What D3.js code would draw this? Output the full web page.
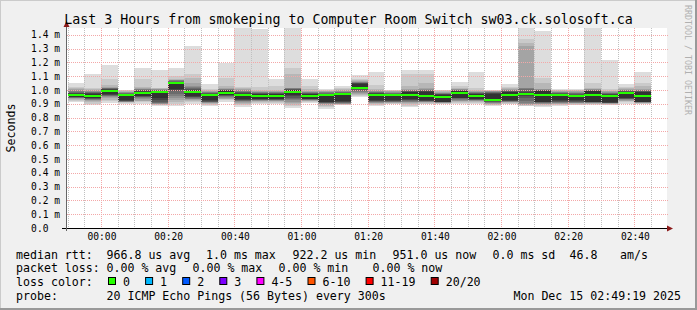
<!DOCTYPE html>
<html>
<head>
<meta charset="utf-8">
<script src="https://cdn.jsdelivr.net/npm/d3@7"></script>
<style>
  body { margin: 0; background: #f0f0f0; }
  text { font-family: "DejaVu Sans Mono", monospace; white-space: pre; fill: #000; }
</style>
</head>
<body>
<svg id="chart" width="697" height="310"></svg>
<script>
// 5 minute steps, start of each step
var stepTimes = ["23:50","23:55","00:00","00:05","00:10","00:15","00:20","00:25","00:30","00:35",
                 "00:40","00:45","00:50","00:55","01:00","01:05","01:10","01:15","01:20","01:25",
                 "01:30","01:35","01:40","01:45","01:50","01:55","02:00","02:05","02:10","02:15",
                 "02:20","02:25","02:30","02:35","02:40"];

// median rtt per step, ms
var medianRtt = [0.964, 0.957, 0.990, 0.966, 0.978, 0.983, 1.048, 0.983, 0.964, 0.978,
                 0.964, 0.957, 0.957, 0.983, 0.957, 0.964, 0.969, 1.014, 0.964, 0.964,
                 0.964, 0.957, 0.949, 0.978, 0.957, 0.928, 0.964, 0.969, 0.964, 0.964,
                 0.957, 0.964, 0.957, 0.981, 0.957];

// 20 sorted pings per step, ms (the smoke)
var pings = [
  [0.912,0.922,0.930,0.936,0.940,0.943,0.945,0.947,0.949,0.950,0.972,0.976,0.980,0.985,0.990,0.998,1.005,1.012,1.024,1.048],
  [0.889,0.900,0.910,0.918,0.925,0.930,0.934,0.937,0.940,0.942,0.972,0.976,0.979,0.983,0.987,0.992,1.000,1.008,1.017,1.113],
  [0.904,0.918,0.930,0.942,0.950,0.955,0.960,0.963,0.966,0.968,1.002,1.006,1.009,1.012,1.015,1.018,1.024,1.040,1.082,1.181],
  [0.896,0.905,0.910,0.913,0.915,0.917,0.918,0.920,0.922,0.930,0.968,0.971,0.974,0.977,0.980,0.984,0.988,0.993,0.998,1.003],
  [0.901,0.912,0.918,0.924,0.932,0.940,0.948,0.952,0.956,0.960,0.988,0.993,0.997,1.001,1.005,1.010,1.016,1.024,1.077,1.157],
  [0.884,0.890,0.894,0.897,0.900,0.903,0.908,0.915,0.925,0.945,0.988,0.992,0.996,1.000,1.003,1.006,1.009,1.013,1.017,1.142],
  [0.884,0.900,0.915,0.930,0.945,0.960,0.975,0.990,1.000,1.010,1.052,1.058,1.062,1.066,1.070,1.073,1.076,1.080,1.100,1.157],
  [0.900,0.910,0.918,0.925,0.932,0.938,0.943,0.947,0.951,0.955,0.995,1.000,1.005,1.012,1.020,1.030,1.050,1.090,1.113,1.316],
  [0.884,0.893,0.900,0.904,0.907,0.910,0.912,0.915,0.918,0.925,0.968,0.972,0.976,0.980,0.984,0.988,0.993,1.000,1.010,1.041],
  [0.916,0.925,0.932,0.938,0.944,0.950,0.955,0.959,0.962,0.965,0.995,0.998,1.001,1.004,1.007,1.010,1.014,1.029,1.089,1.195],
  [0.877,0.890,0.898,0.905,0.912,0.918,0.923,0.927,0.931,0.935,0.975,0.979,0.983,0.988,0.994,1.000,1.006,1.012,1.020,1.460],
  [0.896,0.905,0.912,0.918,0.922,0.925,0.928,0.931,0.933,0.935,0.970,0.973,0.976,0.980,0.984,0.988,0.994,1.000,1.020,1.441],
  [0.900,0.908,0.914,0.919,0.923,0.926,0.929,0.931,0.933,0.935,0.972,0.975,0.978,0.981,0.984,0.988,0.993,1.000,1.030,1.077],
  [0.872,0.885,0.895,0.905,0.915,0.925,0.935,0.945,0.955,0.962,1.000,1.003,1.006,1.009,1.012,1.014,1.017,1.113,1.161,1.460],
  [0.904,0.912,0.918,0.922,0.925,0.928,0.930,0.932,0.934,0.936,0.972,0.975,0.978,0.981,0.984,0.988,0.995,1.005,1.030,1.077],
  [0.865,0.878,0.888,0.895,0.900,0.903,0.905,0.907,0.910,0.915,0.968,0.972,0.975,0.979,0.983,0.987,0.991,0.996,1.003,1.010],
  [0.889,0.893,0.896,0.899,0.902,0.905,0.908,0.912,0.916,0.922,0.972,0.976,0.980,0.984,0.988,0.993,0.998,1.005,1.014,1.027],
  [0.950,0.958,0.965,0.972,0.980,0.988,0.995,1.000,1.005,1.012,1.045,1.048,1.051,1.054,1.058,1.062,1.067,1.072,1.077,1.106],
  [0.884,0.892,0.898,0.903,0.908,0.912,0.916,0.919,0.922,0.925,0.975,0.978,0.981,0.984,0.988,0.994,1.000,1.010,1.040,1.130],
  [0.896,0.902,0.906,0.909,0.911,0.913,0.915,0.918,0.922,0.930,0.966,0.970,0.974,0.978,0.982,0.986,0.990,0.994,0.998,1.002],
  [0.877,0.888,0.896,0.903,0.910,0.917,0.922,0.927,0.931,0.935,0.985,0.989,0.993,0.996,0.999,1.002,1.005,1.030,1.113,1.142],
  [0.896,0.902,0.906,0.910,0.913,0.916,0.919,0.921,0.923,0.925,0.985,0.990,0.996,1.000,1.004,1.008,1.012,1.053,1.113,1.142],
  [0.896,0.902,0.905,0.907,0.909,0.911,0.912,0.913,0.914,0.915,0.965,0.969,0.972,0.975,0.978,0.982,0.987,0.992,0.997,1.002],
  [0.896,0.905,0.912,0.918,0.924,0.930,0.935,0.939,0.942,0.945,0.990,0.993,0.996,0.999,1.002,1.005,1.010,1.018,1.030,1.055],
  [0.900,0.908,0.914,0.919,0.923,0.926,0.929,0.931,0.933,0.935,0.972,0.975,0.978,0.981,0.984,0.988,0.994,1.000,1.015,1.128],
  [0.884,0.890,0.895,0.899,0.903,0.907,0.912,0.917,0.921,0.925,0.975,0.978,0.981,0.984,0.987,0.990,0.993,0.996,0.999,1.002],
  [0.896,0.902,0.907,0.911,0.914,0.917,0.919,0.921,0.923,0.925,0.985,0.989,0.992,0.995,0.998,1.001,1.006,1.012,1.022,1.046],
  [0.884,0.888,0.892,0.895,0.898,0.905,0.920,0.940,0.955,0.965,0.975,0.985,0.995,1.005,1.012,1.017,1.323,1.340,1.373,1.460],
  [0.877,0.886,0.893,0.898,0.902,0.905,0.908,0.911,0.913,0.915,0.990,0.994,0.997,1.000,1.003,1.006,1.010,1.053,1.089,1.431],
  [0.884,0.892,0.898,0.902,0.905,0.908,0.911,0.915,0.920,0.928,0.968,0.972,0.976,0.980,0.984,0.988,0.993,0.998,1.004,1.010],
  [0.889,0.895,0.899,0.903,0.906,0.909,0.912,0.916,0.921,0.930,0.962,0.967,0.972,0.977,0.982,0.987,0.992,0.998,1.004,1.010],
  [0.889,0.896,0.900,0.903,0.906,0.908,0.910,0.912,0.914,0.915,0.990,0.993,0.996,0.999,1.002,1.005,1.010,1.017,1.053,1.460],
  [0.889,0.895,0.899,0.902,0.904,0.906,0.907,0.908,0.909,0.910,0.965,0.969,0.973,0.977,0.981,0.985,0.990,0.996,1.005,1.217],
  [0.896,0.910,0.918,0.924,0.929,0.933,0.936,0.938,0.939,0.940,0.985,0.988,0.992,0.996,1.000,1.004,1.008,1.013,1.020,1.041],
  [0.896,0.900,0.903,0.906,0.908,0.910,0.912,0.913,0.914,0.915,0.985,0.988,0.991,0.994,0.997,1.000,1.005,1.029,1.053,1.128]
];

var xTickLabels = ["00:00","00:20","00:40","01:00","01:20","01:40","02:00","02:20","02:40"];
var yTicks = [0.0,0.1,0.2,0.3,0.4,0.5,0.6,0.7,0.8,0.9,1.0,1.1,1.2,1.3,1.4];

var lossLabels = ["0","1","2","3","4-5","6-10","11-19","20/20"];
var lossColors = ["#26ff00","#00b8ff","#0059ff","#7e00ff","#ff00ff","#ff5500","#ff0000","#a00000"];

var legendRtt = [["median rtt:",16],["966.8 us avg",106.5],["1.0 ms max",206],["922.2 us min",292.5],
                 ["951.0 us now",392.5],["0.0 ms sd",492.5],["46.8",569.5],["am/s",620]];
var legendLoss = [["packet loss:",16],["0.00 % avg",106.5],["0.00 % max",192.5],
                  ["0.00 % min",278.5],["0.00 % now",372.5]];

var margin = {top: 28, left: 67},
    width = 600,
    height = 200,
    W = 697, H = 310;

// times of the last 3 hours, Dec 14 -> Dec 15 2025
function when(s) {
  var p = s.split(":").map(Number);
  var day = p[0] >= 12 ? 14 : 15;
  return new Date(Date.UTC(2025, 11, day, p[0], p[1], p[2] || 0));
}
function stepEnd(s) { return new Date(when(s).getTime() + 300000); }

var xScale = d3.scaleUtc()
    .domain([when("23:49:48"), when("02:49:48")])
    .range([margin.left, margin.left + width]);
var yScale = d3.scaleLinear()
    .domain([0, 1.45])
    .range([margin.top + height, margin.top]);

var svg = d3.select("#chart");

// background and rrdtool style shaded frame
svg.append("rect").attr("width", W).attr("height", H).attr("fill", "#f0f0f0");
svg.append("path").attr("d", "M0,0H697V1H1V310H0Z").attr("fill", "#cbcbcb");
svg.append("path").attr("d", "M697,0V310H0V308H695V0Z").attr("fill", "#999999");

svg.append("rect")
    .attr("x", margin.left).attr("y", margin.top)
    .attr("width", width).attr("height", height)
    .attr("fill", "#fff");

svg.append("clipPath").attr("id", "plot")
  .append("rect")
    .attr("x", margin.left).attr("y", margin.top)
    .attr("width", width).attr("height", height);

var smoke = svg.append("g")
    .attr("clip-path", "url(#plot)")
    .style("shape-rendering", "crispEdges");

// smokeping smoke: pair i with 21-i, outer pairs lighter
var half = 10;
stepTimes.forEach(function(t, i) {
  var x0 = xScale(when(t)),
      x1 = xScale(stepEnd(t)),
      p = pings[i];
  for (var k = 0; k < half; k++) {
    var c = Math.floor(190 / half * (half - (k + 1))) + 50;
    smoke.append("rect")
        .attr("x", x0)
        .attr("width", x1 - x0)
        .attr("y", yScale(p[19 - k]))
        .attr("height", yScale(p[k]) - yScale(p[19 - k]))
        .attr("fill", d3.rgb(c, c, c));
  }
});

// grid on top of the smoke
var grid = svg.append("g").style("shape-rendering", "crispEdges");
var minor = xScale.ticks(d3.utcMinute.every(5)),
    major = xScale.ticks(d3.utcMinute.every(20));

grid.selectAll(".minor")
    .data(minor.filter(function(d) { return d.getUTCMinutes() % 20 != 0; }))
  .enter().append("line")
    .attr("x1", function(d) { return Math.round(xScale(d)) + 0.5; })
    .attr("x2", function(d) { return Math.round(xScale(d)) + 0.5; })
    .attr("y1", margin.top).attr("y2", margin.top + height)
    .attr("stroke", "#c0c0c0").attr("stroke-dasharray", "1,1");

grid.selectAll(".hmajor")
    .data(yTicks.slice(1))
  .enter().append("line")
    .attr("x1", margin.left).attr("x2", margin.left + width + 1)
    .attr("y1", function(d) { return Math.round(yScale(d)) + 0.5; })
    .attr("y2", function(d) { return Math.round(yScale(d)) + 0.5; })
    .attr("stroke", "#f3a8a8").attr("stroke-dasharray", "1,1");

grid.selectAll(".vmajor")
    .data(major)
  .enter().append("line")
    .attr("x1", function(d) { return Math.round(xScale(d)) + 0.5; })
    .attr("x2", function(d) { return Math.round(xScale(d)) + 0.5; })
    .attr("y1", margin.top).attr("y2", margin.top + height)
    .attr("stroke", "#f3a8a8").attr("stroke-dasharray", "1,1");

// median, coloured by loss (all 0 here)
svg.append("g").style("shape-rendering", "crispEdges")
  .selectAll("rect")
    .data(stepTimes)
  .enter().append("rect")
    .attr("x", function(d) { return xScale(when(d)); })
    .attr("width", function(d) { return xScale(stepEnd(d)) - xScale(when(d)); })
    .attr("y", function(d, i) { return Math.round(yScale(medianRtt[i])) - 1; })
    .attr("height", 2)
    .attr("fill", lossColors[0]);

// axes
var y0 = margin.top + height + 0.5;
svg.append("line").attr("x1", 62).attr("x2", 669).attr("y1", y0).attr("y2", y0)
    .attr("stroke", "#000");
svg.append("line").attr("x1", 66.5).attr("x2", 66.5).attr("y1", 231).attr("y2", 24)
    .attr("stroke", "#666");
svg.append("path").attr("d", "M673,228.5L667,225.5V231.5Z").attr("fill", "#8b1a1a");
svg.append("path").attr("d", "M66.5,21L63.5,27H69.5Z").attr("fill", "#8b1a1a");

svg.selectAll(".ylab")
    .data(yTicks)
  .enter().append("text")
    .attr("x", 60)
    .attr("y", function(d) { return yScale(d) + 3.5; })
    .attr("text-anchor", "end")
    .style("font-size", "9.6px")
    .text(function(d) { return d === 0 ? "0.0  " : d3.format(".1f")(d) + " m"; });

svg.selectAll(".xlab")
    .data(xTickLabels)
  .enter().append("text")
    .attr("x", function(d) { return xScale(when(d)) + 1; })
    .attr("y", 240.3)
    .attr("text-anchor", "middle")
    .style("font-size", "9.6px")
    .text(function(d) { return d; });

// titles
svg.append("text")
    .attr("x", 348.5).attr("y", 23.7)
    .attr("text-anchor", "middle")
    .style("font-size", "13.3px")
    .text("Last 3 Hours from smokeping to Computer Room Switch sw03.ck.solosoft.ca");

svg.append("text")
    .attr("transform", "translate(15,128) rotate(-90)")
    .attr("text-anchor", "middle")
    .style("font-size", "11.6px")
    .text("Seconds");

svg.append("text")
    .attr("transform", "translate(684.5,5) rotate(90)")
    .style("font-size", "8.3px")
    .style("fill", "#b0b0b0")
    .text("RRDTOOL / TOBI OETIKER");

// legend
var legend = svg.append("g").style("font-size", "11.6px");

legend.selectAll(".rtt").data(legendRtt)
  .enter().append("text")
    .attr("x", function(d) { return d[1]; }).attr("y", 258.7)
    .text(function(d) { return d[0]; });

legend.selectAll(".loss").data(legendLoss)
  .enter().append("text")
    .attr("x", function(d) { return d[1]; }).attr("y", 272.3)
    .text(function(d) { return d[0]; });

legend.append("text").attr("x", 16).attr("y", 285.9).text("loss color:");
var bx = 108;
lossLabels.forEach(function(l, i) {
  legend.append("rect")
      .attr("x", bx + 0.5).attr("y", 277.5)
      .attr("width", 7).attr("height", 7)
      .attr("fill", lossColors[i]).attr("stroke", "#000");
  legend.append("text").attr("x", bx + 15).attr("y", 285.9).text(l);
  bx += 15 + l.length * 7 + 15.1;
});

legend.append("text").attr("x", 16).attr("y", 299.5).text("probe:");
legend.append("text").attr("x", 106.5).attr("y", 299.5)
    .text("20 ICMP Echo Pings (56 Bytes) every 300s");
legend.append("text").attr("x", 681).attr("y", 299.5)
    .attr("text-anchor", "end")
    .text("Mon Dec 15 02:49:19 2025");
</script>
</body>
</html>
